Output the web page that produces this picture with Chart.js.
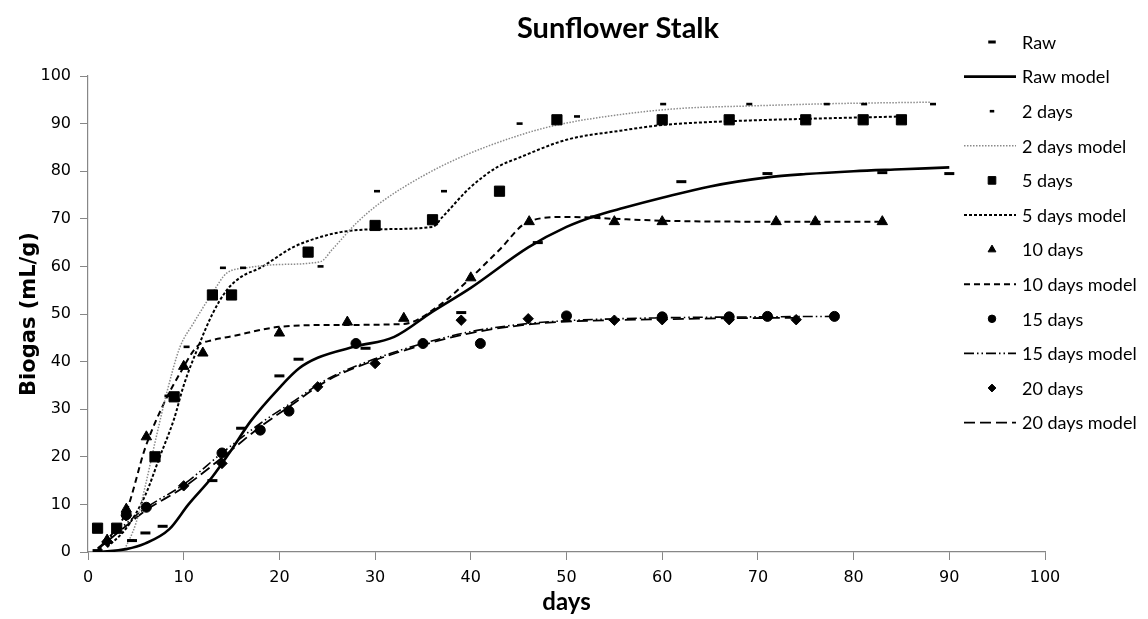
<!DOCTYPE html>
<html>
<head>
<meta charset="utf-8">
<script src="https://cdn.jsdelivr.net/npm/chart.js@4.4.1/dist/chart.umd.min.js"></script>
<style>
  html, body { margin: 0; padding: 0; background: #fff; }
  #wrap { width: 1148px; height: 619px; position: relative; }
</style>
</head>
<body>
<div id="wrap"><canvas id="chart"></canvas></div>
<script>
// measured points (days, biogas mL/g)
const rawDays = [1, 4.6, 6, 7.8, 13, 16, 20, 22, 29, 39, 47, 53, 62, 71, 83, 90];
const rawGas = [0.3, 2.4, 4, 5.4, 15, 26, 37, 40.5, 42.8, 50.3, 65, 70.4, 77.8, 79.5, 79.7, 79.5];
const rawModelDays = [1, 4, 6, 8.5, 10.5, 13, 15, 17, 20, 22, 24, 28, 32, 36, 40, 46, 50, 53, 56, 60, 65, 71, 75, 80, 85, 90];
const rawModelGas = [0, 0.6, 1.8, 4.8, 10, 15.8, 21.5, 27.5, 34.5, 38.5, 40.8, 43.2, 45.2, 50.5, 55.5, 64, 68.3, 70.6, 72.3, 74.4, 76.8, 78.7, 79.4, 80, 80.4, 80.8];

const twoDays = [4.5, 8.3, 10.3, 14.1, 16.2, 24.3, 30.2, 37.2, 45.1, 51.1, 60.1, 69.1, 77.2, 81.1, 88.3];
const twoGas = [2.4, 32.8, 43.1, 59.7, 59.7, 60, 75.8, 75.8, 90, 91.5, 94.1, 94.1, 94.1, 94.1, 94.1];
const twoModelDays = [3.7, 5, 6, 7, 8.3, 9.6, 11, 13, 14.5, 16.6, 20, 24.3, 25.5, 28, 30.5, 35, 39, 45, 49, 56, 62, 69, 78, 88];
const twoModelGas = [0, 6, 14, 23, 34, 43, 48, 54.4, 58.6, 59.7, 60.4, 61, 63.5, 69, 73.3, 79, 83, 87.5, 89.7, 92, 93.2, 93.7, 94.2, 94.5];

const fiveDays = [1, 3, 7, 9, 13, 15, 23, 30, 36, 43, 49, 60, 67, 75, 81, 85];
const fiveGas = [5, 5, 20, 32.6, 54, 54, 63, 68.6, 69.8, 75.8, 90.8, 90.8, 90.8, 90.8, 90.8, 90.8];
const fiveModelDays = [2, 4, 6, 7.5, 9, 10, 11.5, 13, 14.5, 16, 18, 21.4, 24, 26.4, 30, 36, 37, 40, 42.8, 45, 50, 55.6, 60, 67, 75, 85];
const fiveModelGas = [1, 5, 12, 20, 28, 35, 43, 50, 55, 57.8, 59.7, 64, 66, 67.2, 67.8, 68.3, 70.3, 76.7, 80.9, 82.8, 86.6, 88.5, 89.7, 90.5, 91, 91.5];

const tenDays = [2, 4, 6.1, 10, 12, 20, 27.1, 33, 40, 46.1, 55, 60, 71.9, 76, 83];
const tenGas = [2.5, 9, 24.2, 39, 41.8, 46, 48.3, 49.1, 57.6, 69.4, 69.4, 69.4, 69.4, 69.4, 69.4];
const tenModelDays = [1, 2, 4, 6, 8, 9.6, 11.4, 13, 15, 20, 26, 33, 36.5, 40, 43, 46, 50, 55, 60, 70, 83];
const tenModelGas = [0, 2.5, 8.5, 22, 31.5, 37.5, 43.2, 44.5, 45.3, 47.3, 47.7, 47.9, 51.5, 57.6, 63.5, 69.4, 70.4, 70, 69.6, 69.4, 69.4];

const fifteenDays = [4, 6.1, 14, 18, 21, 28, 35, 41, 50, 60, 67, 71, 78];
const fifteenGas = [7.8, 9.4, 20.8, 25.6, 29.6, 43.8, 43.8, 43.8, 49.6, 49.4, 49.4, 49.5, 49.5];
const fifteenModelDays = [1, 2, 4, 6, 10, 14, 18, 21, 25, 30, 35, 40, 46, 50, 60, 70, 78];
const fifteenModelGas = [0.8, 2.5, 6, 9.2, 14.2, 20.8, 27, 31, 36.3, 40.6, 43.8, 46.3, 48, 48.6, 49.2, 49.4, 49.5];

const twentyDays = [2, 4, 10, 14, 24, 30, 39, 46, 55, 60, 67, 74];
const twentyGas = [2.2, 7.6, 13.9, 18.6, 34.7, 39.6, 48.7, 49, 48.7, 48.8, 48.8, 48.8];
const twentyModelDays = [1, 2, 4, 6, 10, 14, 18, 21, 25, 30, 35, 40, 46, 50, 60, 67, 74];
const twentyModelGas = [0.5, 2.2, 5.5, 8.7, 13.6, 19.8, 26.3, 30.5, 36, 40.3, 43.5, 46, 47.8, 48.4, 48.9, 49.1, 49.2];

const xTicks = [0, 10, 20, 30, 40, 50, 60, 70, 80, 90, 100];

const pts = (xs, ys) => xs.map((x, i) => ({ x, y: ys[i] }));

function markers(label, xs, ys, style, radius, bw) {
  return {
    label, data: pts(xs, ys), showLine: false, order: 0,
    pointStyle: style, pointRadius: radius, pointHoverRadius: radius,
    pointBackgroundColor: '#000', pointBorderColor: '#000', pointBorderWidth: bw || 1,
    legendRadius: radius * 0.75
  };
}
function model(label, xs, ys, dash, width, color) {
  return {
    label, data: pts(xs, ys), showLine: true, order: 1,
    borderColor: color || '#000', borderWidth: width, borderDash: dash,
    pointRadius: 0, pointHoverRadius: 0, cubicInterpolationMode: 'monotone', fill: false
  };
}

const datasets = [
  markers('Raw', rawDays, rawGas, 'line', 5, 3),
  model('Raw model', rawModelDays, rawModelGas, [], 2.6),
  markers('2 days', twoDays, twoGas, 'line', 3, 2.6),
  model('2 days model', twoModelDays, twoModelGas, [1.5, 1.5], 1.5, '#8a8a8a'),
  markers('5 days', fiveDays, fiveGas, 'rect', 7.2),
  model('5 days model', fiveModelDays, fiveModelGas, [3, 2], 2),
  markers('10 days', tenDays, tenGas, 'triangle', 6),
  model('10 days model', tenModelDays, tenModelGas, [6, 4], 2),
  markers('15 days', fifteenDays, fifteenGas, 'circle', 5),
  model('15 days model', fifteenModelDays, fifteenModelGas, [10, 3, 1.5, 3, 1.5, 3], 1.6),
  markers('20 days', twentyDays, twentyGas, 'rectRot', 5.2),
  model('20 days model', twentyModelDays, twentyModelGas, [11, 5], 1.8)
];

const sideLegend = {
  id: 'sideLegend',
  afterDraw(chart) {
    const ctx = chart.ctx;
    ctx.save();
    // title
    ctx.fillStyle = '#000';
    ctx.font = 'bold 29px Lato';
    ctx.textAlign = 'center';
    ctx.textBaseline = 'middle';
    ctx.fillText('Sunflower Stalk', 618, 29);
    // legend rows
    ctx.font = '18px Lato';
    ctx.textAlign = 'left';
    chart.data.datasets.forEach((ds, i) => {
      const y = 42 + i * 34.6;
      if (ds.showLine) {
        ctx.save();
        ctx.strokeStyle = ds.borderColor;
        ctx.lineWidth = ds.borderWidth;
        ctx.setLineDash(ds.borderDash);
        ctx.beginPath();
        ctx.moveTo(964, y);
        ctx.lineTo(1016, y);
        ctx.stroke();
        ctx.restore();
      } else {
        ctx.save();
        ctx.fillStyle = '#000';
        ctx.strokeStyle = '#000';
        ctx.lineWidth = ds.pointBorderWidth;
        Chart.helpers.drawPoint(ctx, { pointStyle: ds.pointStyle, radius: ds.legendRadius, borderWidth: ds.pointBorderWidth, rotation: 0 }, 992, y);
        ctx.restore();
      }
      ctx.fillStyle = '#000';
      ctx.fillText(ds.label, 1022, y + 1);
    });
    ctx.restore();
  }
};

const axisColor = '#878787';
new Chart(document.getElementById('chart'), {
  type: 'scatter',
  data: { datasets },
  plugins: [sideLegend],
  options: {
    responsive: true,
    maintainAspectRatio: false,
    animation: false,
    layout: { padding: { top: 76, right: 103, left: 0, bottom: 0 } },
    plugins: { legend: { display: false }, tooltip: { enabled: false } },
    scales: {
      x: {
        type: 'linear', min: 0, max: 100,
        afterBuildTicks(scale) { scale.ticks = xTicks.map(v => ({ value: v })); },
        afterFit(scale) { scale.height = 67; },
        grid: { drawOnChartArea: false, drawTicks: true, tickLength: 8, color: axisColor },
        border: { color: axisColor, width: 1.2 },
        ticks: { color: '#000', font: { family: 'DejaVu Sans', size: 16 }, padding: 8, maxRotation: 0 },
        title: { display: true, text: 'days', color: '#000', font: { family: 'Lato', size: 24, weight: 'bold' }, padding: { top: 0, bottom: 2 } }
      },
      y: {
        type: 'linear', min: 0, max: 100,
        ticks: { stepSize: 10, color: '#000', font: { family: 'DejaVu Sans', size: 16 }, padding: 9 },
        afterFit(scale) { scale.width = 88; },
        grid: { drawOnChartArea: false, drawTicks: true, tickLength: 8, color: axisColor },
        border: { color: axisColor, width: 1.2 },
        title: { display: true, text: 'Biogas (mL/g)', color: '#000', font: { family: 'DejaVu Sans', size: 21, weight: 'bold' }, padding: { top: 17, bottom: 0 } }
      }
    }
  }
});
</script>
</body>
</html>
